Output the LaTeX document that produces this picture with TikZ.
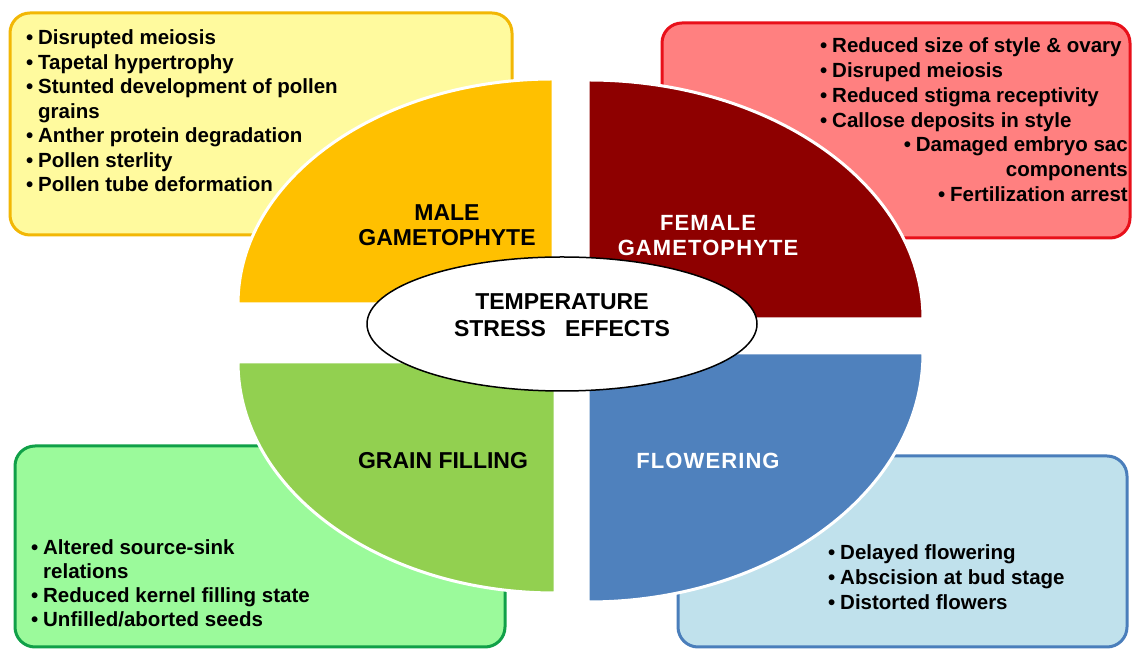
\documentclass[tikz,border=0pt]{standalone}
\usepackage{fontspec}
\setmainfont{Liberation Sans}
\usetikzlibrary{shapes.geometric}
\definecolor{ybox}{HTML}{FFFA9E}
\definecolor{yedge}{HTML}{F2B705}
\definecolor{orq}{HTML}{FFC000}
\definecolor{rbox}{HTML}{FF8080}
\definecolor{redge}{HTML}{E8101A}
\definecolor{rq}{HTML}{8E0000}
\definecolor{gbox}{HTML}{9BFA9B}
\definecolor{gedge}{HTML}{10A048}
\definecolor{gq}{HTML}{92D050}
\definecolor{bbox}{HTML}{C0E1EC}
\definecolor{bedge}{HTML}{4A7EBB}
\definecolor{bq}{HTML}{4F81BD}
\newcommand\bul{\makebox[12pt][l]{\textbullet}}
\begin{document}
\begin{tikzpicture}[x=1pt,y=1pt,
  infobox/.style={rounded corners=20pt, line width=3pt},
  quad/.style={draw=white, line width=3pt},
  item/.style={anchor=base west, inner sep=0pt, font=\fontsize{20.5}{24}\selectfont\bfseries},
  itemr/.style={anchor=base east, inner sep=0pt, font=\fontsize{20.5}{24}\selectfont\bfseries},
  qlabel/.style={anchor=base, inner sep=0pt, font=\fontsize{23}{27}\selectfont\bfseries},
  qlabelw/.style={anchor=base, inner sep=0pt, text=white, font=\fontsize{22}{27}\selectfont\bfseries\addfontfeature{LetterSpace=5}}
]
\useasboundingbox (0,0) rectangle (1135,652);
\fill[white] (0,0) rectangle (1135,652);
% boxes
\draw[infobox, draw=yedge, fill=ybox] (10,417) rectangle (512,639);
\draw[infobox, draw=redge, fill=rbox] (662,414) rectangle (1130,629);
\draw[infobox, draw=gedge, fill=gbox] (15,5) rectangle (505,206);
\draw[infobox, draw=bedge, fill=bbox] (678,5) rectangle (1127,196);
% quadrants
\filldraw[quad, fill=orq] (553,348) -- (238,348) arc[start angle=180, end angle=90, x radius=315, y radius=225] -- cycle;
\filldraw[quad, fill=rq] (588,333) -- (923,333) arc[start angle=0, end angle=90, x radius=335, y radius=239] -- cycle;
\filldraw[quad, fill=gq] (555,290) -- (238,290) arc[start angle=180, end angle=270, x radius=317, y radius=231] -- cycle;
\filldraw[quad, fill=bq] (588,299) -- (923,299) arc[start angle=0, end angle=-90, x radius=335, y radius=249] -- cycle;
% centre
\node[ellipse, draw=black, line width=1.5pt, fill=white, minimum width=390pt, minimum height=134pt, inner sep=0pt] (core) at (562,328) {};
\node[qlabel] (t1) at (562,342) {TEMPERATURE};
\node[qlabel] (t2) at (562,315) {STRESS\ \ \ EFFECTS};
% quadrant labels
\node[qlabel] (ml1) at (447,431) {MALE};
\node[qlabel] (ml2) at (447,406) {GAMETOPHYTE};
\node[qlabelw] (fl1) at (708,421) {FEMALE};
\node[qlabelw] (fl2) at (708,396) {GAMETOPHYTE};
\node[qlabel] (gl) at (443,183) {GRAIN FILLING};
\node[qlabelw] (bl) at (708,183) {FLOWERING};
% male items
\foreach \t [count=\i from 0] in {{\bul Disrupted meiosis},{\bul Tapetal hypertrophy},{\bul Stunted development of pollen},{\hspace*{12pt}grains},{\bul Anther protein degradation},{\bul Pollen sterlity},{\bul Pollen tube deformation}}
  \node[item] (m\i) at (26,607-24.5*\i) {\t};
% female items
\foreach \t [count=\i from 0] in {{\bul Reduced size of style \& ovary},{\bul Disruped meiosis},{\bul Reduced stigma receptivity},{\bul Callose deposits in style}}
  \node[item] (f\i) at (820,599-24.7*\i) {\t};
\foreach \t [count=\i from 4] in {{\bul Damaged embryo sac},{components},{\bul Fertilization arrest}}
  \node[itemr] (f\i) at (1128,599-24.7*\i) {\t};
% grain items
\foreach \t [count=\i from 0] in {{\bul Altered source-sink},{\hspace*{12pt}relations},{\bul Reduced kernel filling state},{\bul Unfilled/aborted seeds}}
  \node[item] (g\i) at (31,97-24*\i) {\t};
% flowering items
\foreach \t [count=\i from 0] in {{\bul Delayed flowering},{\bul Abscision at bud stage},{\bul Distorted flowers}}
  \node[item] (b\i) at (828,92-25*\i) {\t};
\end{tikzpicture}
\end{document}
